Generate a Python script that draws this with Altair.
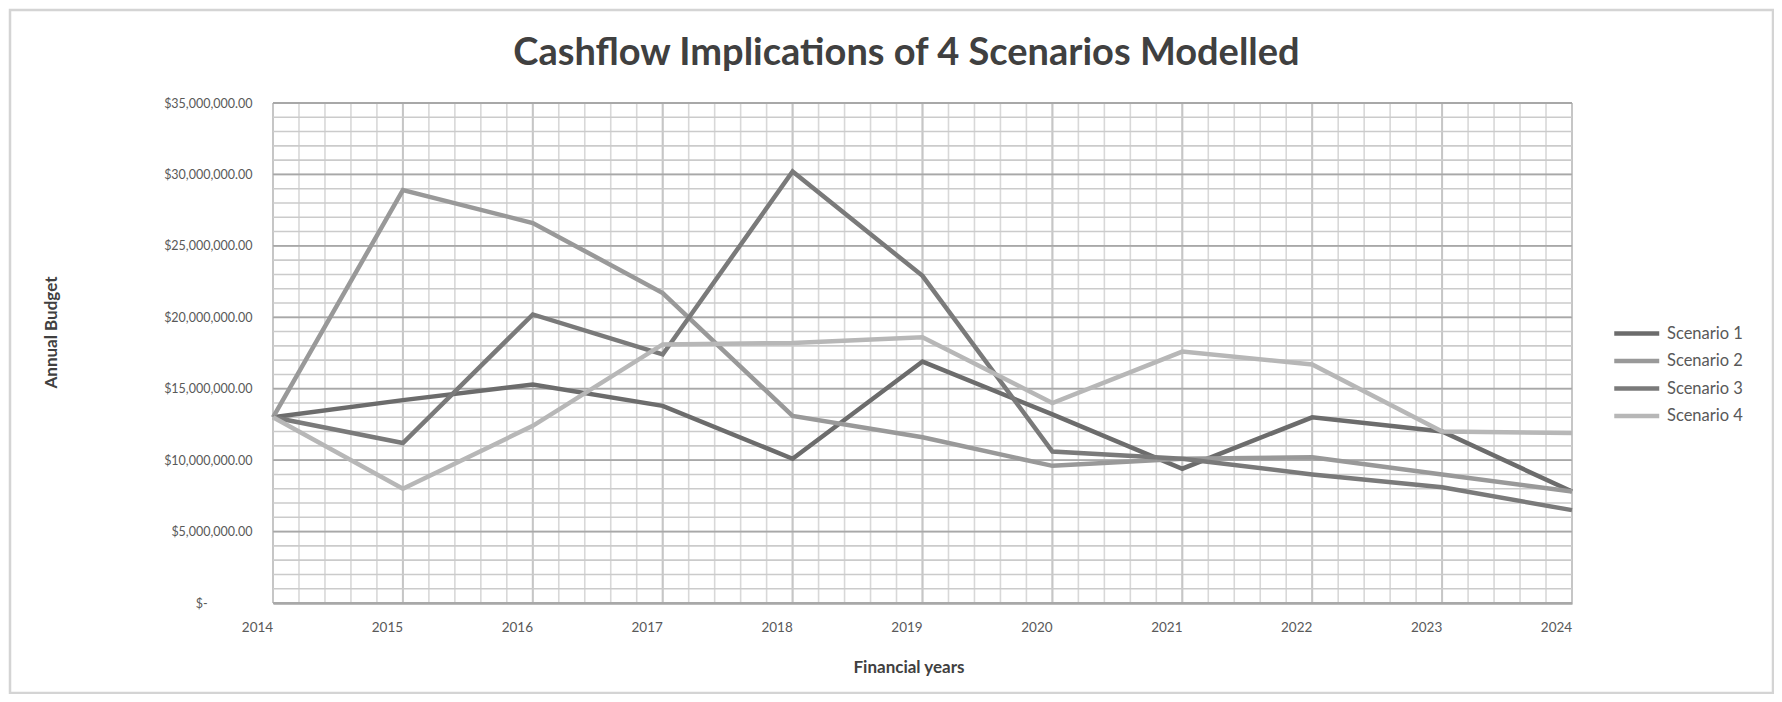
import altair as alt
import pandas as pd
import numpy as np

# ---- data (values in $ millions) ----
years = [2014, 2015, 2016, 2017, 2018, 2019, 2020, 2021, 2022, 2023, 2024]
scenario_1 = [13.0, 14.2, 15.3, 13.8, 10.1, 16.9, 13.2, 9.4, 13.0, 12.0, 7.8]
scenario_2 = [13.0, 28.9, 26.6, 21.7, 13.1, 11.6, 9.6, 10.1, 10.2, 9.0, 7.8]
scenario_3 = [13.0, 11.2, 20.2, 17.4, 30.2, 22.9, 10.6, 10.1, 9.0, 8.1, 6.5]
scenario_4 = [13.0, 8.0, 12.4, 18.1, 18.2, 18.6, 14.0, 17.6, 16.7, 12.0, 11.9]
series_names = ["Scenario 1", "Scenario 2", "Scenario 3", "Scenario 4"]
series_colors = ["#6c6c6c", "#999999", "#7a7a7a", "#b7b7b7"]
y_ticks = [0, 5e6, 10e6, 15e6, 20e6, 25e6, 30e6, 35e6]

rows = []
for name, vals in zip(series_names, [scenario_1, scenario_2, scenario_3, scenario_4]):
    for yr, v in zip(years, vals):
        rows.append({"Year": yr, "Budget": v * 1e6, "Scenario": name})
df = pd.DataFrame(rows)

FONT = "Lato"
PW, PH = 1299, 500

x_scale = alt.Scale(domain=[2014, 2024], nice=False, zero=False)
y_scale = alt.Scale(domain=[0, 35e6], nice=False, zero=True)

zero_label = "$-" + "\u00a0" * 14 + "\u200b"

x_axis = alt.Axis(values=years, format="d", title="Financial years", grid=False,
                  ticks=False, domain=True, domainColor="#a6a6a6", domainWidth=2.5,
                  labelFont=FONT, labelFontSize=13.5, labelColor="#595959",
                  labelPadding=17, labelFlush=False, labelOffset=-16,
                  titleFont=FONT, titleFontSize=17, titleFontWeight="bold",
                  titleColor="#404040", titleX=PW / 2 - 14, titleY=64,
                  titleAlign="center", titleBaseline="middle")
y_axis = alt.Axis(values=y_ticks, grid=False, ticks=False, domain=False,
                  labelExpr="datum.value == 0 ? '" + zero_label + "' : format(datum.value, '$,.2f')",
                  labelFont=FONT, labelFontSize=12.5, labelColor="#595959",
                  labelPadding=21, title="Annual Budget",
                  titleFont=FONT, titleFontSize=17, titleFontWeight="bold",
                  titleColor="#404040", titleX=-222, titleY=229,
                  titleAlign="center", titleBaseline="middle", titleAngle=270)

# gridline positions (styling only)
x_minor = pd.DataFrame({"gx": np.round(np.arange(2014, 2024.001, 0.2), 3)})
x_major = pd.DataFrame({"gx": years})
y_minor = pd.DataFrame({"gy": np.arange(0, 35e6 + 1, 1e6)})
y_major = pd.DataFrame({"gy": y_ticks})

vminor = alt.Chart(x_minor).mark_rule(color="#d8d8d8", strokeWidth=1.6).encode(
    x=alt.X("gx:Q", scale=x_scale, axis=x_axis))
vmajor = alt.Chart(x_major).mark_rule(color="#c6c6c6", strokeWidth=2).encode(
    x=alt.X("gx:Q", scale=x_scale, axis=x_axis))
hminor = alt.Chart(y_minor).mark_rule(color="#cbcbcb", strokeWidth=1.6).encode(
    y=alt.Y("gy:Q", scale=y_scale, axis=y_axis))
hmajor = alt.Chart(y_major).mark_rule(color="#a8a8a8", strokeWidth=1.8).encode(
    y=alt.Y("gy:Q", scale=y_scale, axis=y_axis))

frame = alt.Chart(pd.DataFrame({"a": [0]})).mark_rect(
    fill="transparent", stroke="#d4d4d4", strokeWidth=2.5).encode(
    x=alt.value(-263), x2=alt.value(PW + 201), y=alt.value(-93), y2=alt.value(PH + 90))

lines = alt.Chart(df).mark_line(strokeWidth=4.5, strokeJoin="miter").encode(
    x=alt.X("Year:Q", scale=x_scale, axis=x_axis),
    y=alt.Y("Budget:Q", scale=y_scale, axis=y_axis),
    color=alt.Color("Scenario:N", scale=alt.Scale(domain=series_names, range=series_colors),
                    legend=alt.Legend(title=None, orient="none", legendX=PW + 40, legendY=217,
                                      symbolType="M-1,0H3", symbolStrokeWidth=4.5, symbolSize=506,
                                      labelFont=FONT, labelFontSize=16.5, labelColor="#595959",
                                      labelOffset=28, rowPadding=4.5)),
    order=alt.Order("Year:Q"),
)

chart = alt.layer(frame, vminor, vmajor, hminor, hmajor, lines).properties(
    width=PW, height=PH,
    title=alt.TitleParams("Cashflow Implications of 4 Scenarios Modelled", font=FONT,
                          fontSize=38, fontWeight="bold", color="#404040",
                          anchor="middle", offset=0, dy=83, dx=-16, baseline="middle"),
    autosize=alt.AutoSizeParams(type="none"),
    padding={"left": 265, "top": 95, "right": 202, "bottom": 91},
).configure_view(stroke="#bfbfbf", strokeWidth=1.5).configure(background="white")

chart.save("out.html", embed_options={"renderer": "svg", "actions": False})
